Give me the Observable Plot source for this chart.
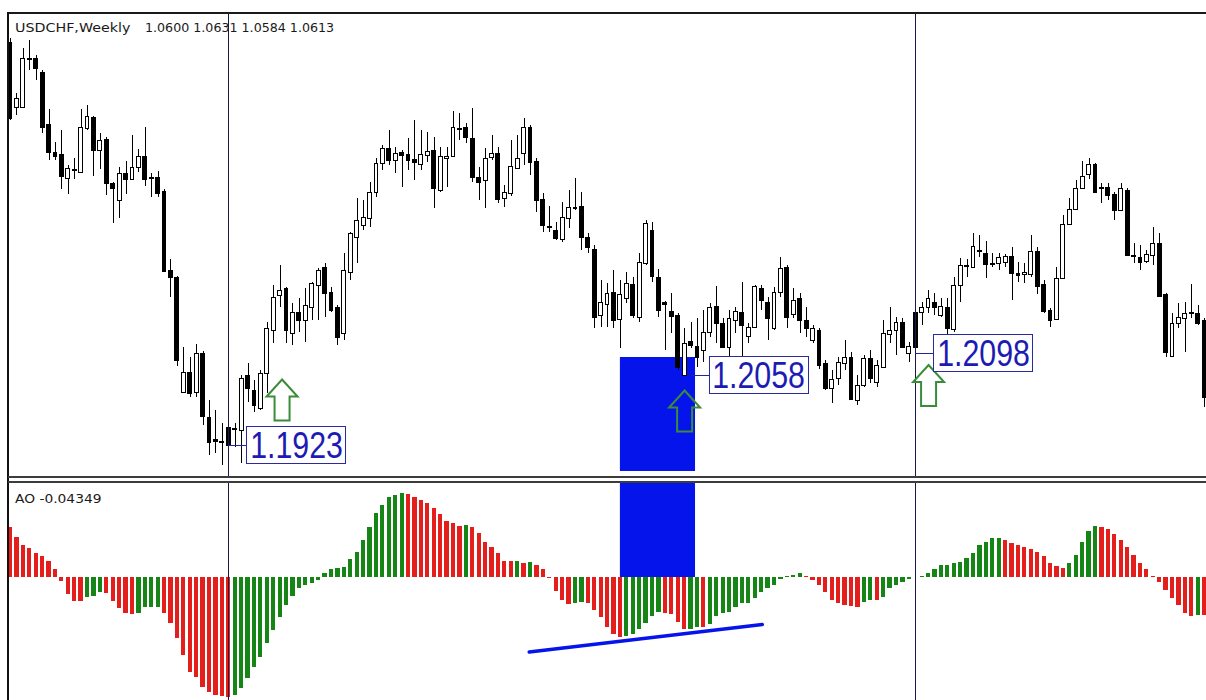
<!DOCTYPE html>
<html>
<head>
<meta charset="utf-8">
<script src="https://cdn.jsdelivr.net/npm/d3@7"></script>
<script src="https://cdn.jsdelivr.net/npm/@observablehq/plot@0.6"></script>
<style>
  html, body { margin: 0; padding: 0; background: #fff; }
  #wrap { position: relative; width: 1206px; height: 700px; overflow: hidden; background: #fff; }
  #main, #ao { position: absolute; left: 0; }
  #main { top: 0; }
  #ao { top: 478px; }
  .line { position: absolute; }
  .hdr { position: absolute; font-family: "DejaVu Sans", sans-serif; font-size: 11.5px; line-height: 12px;
         color: #1a1a1a; white-space: pre; transform-origin: left top; }
  .conn { position: absolute; height: 1px; background: #23239a; }
  .box { position: absolute; box-sizing: border-box; height: 38px; width: 100px; border: 1.5px solid #2a2a9e;
         background: #fff; display: flex; justify-content: center; overflow: visible; }
  .box span { display: inline-block; font-family: "Liberation Sans", Arial, sans-serif; font-size: 37px;
              line-height: 37px; color: #1c1cb4; transform: scaleX(0.82); transform-origin: center top; white-space: nowrap; }
</style>
</head>
<body>
<div id="wrap">
  <div id="main"></div>
  <div id="ao"></div>
</div>
<script>
// ---------------- DATA ----------------
const symbolTitle = "USDCHF,Weekly";
const quoteValues = ["1.0600", "1.0631", "1.0584", "1.0613"];
const aoTitle = "AO -0.04349";

const open = [1.2729,1.2599,1.2599,1.2697,1.2697,1.2669,1.2565,1.2509,1.2505,1.2457,
1.2473,1.2469,1.2557,1.2579,1.2513,1.2535,1.2447,1.2413,1.2467,1.2455,
1.2479,1.2501,1.2459,1.2459,1.2431,1.2273,1.2259,1.2029,1.2069,1.2029,
1.2107,1.1979,1.1935,1.1931,1.1959,1.1955,1.1953,1.2063,1.2033,1.1997,
1.2067,1.2153,1.2223,1.2237,1.2147,1.2189,1.2173,1.2199,1.2243,1.2279,
1.2229,1.2199,1.2147,1.2269,1.2339,1.2363,1.2377,1.2429,1.2487,1.2517,
1.2493,1.2509,1.2505,1.2495,1.2485,1.2503,1.2513,1.2433,1.2497,1.2501,
1.2555,1.2559,1.2537,1.2459,1.2453,1.2499,1.2507,1.2417,1.2427,1.2477,
1.2507,1.2559,1.2491,1.2415,1.2361,1.2353,1.2335,1.2377,1.2399,1.2401,
1.2339,1.2315,1.2183,1.2205,1.2229,1.2175,1.2217,1.2245,1.2179,1.2287,
1.2353,1.2259,1.2209,1.2191,1.2183,1.2063,1.2131,1.2121,1.2113,1.2149,
1.2201,1.2167,1.2119,1.2173,1.2189,1.2141,1.2159,1.2237,1.2209,1.2157,
1.2229,1.2279,1.2185,1.2217,1.2173,1.2133,1.2153,1.2087,1.2037,1.2057,
1.2087,1.2099,1.2013,1.2043,1.2097,1.2049,1.2079,1.2145,1.2153,1.2169,
1.2107,1.2189,1.2189,1.2199,1.2209,1.2183,1.2199,1.2155,1.2243,1.2281,
1.2279,1.2311,1.2307,1.2287,1.2287,1.2289,1.2301,1.2267,1.2265,1.2265,
1.2311,1.2245,1.2193,1.2175,1.2257,1.2365,1.2395,1.2437,1.2465,1.2485,
1.2439,1.2439,1.2425,1.2393,1.2433,1.2303,1.2299,1.2291,1.2303,1.2327,
1.2225,1.2101,1.2167,1.2177,1.2187,1.2187,1.2173];

const high = [1.2737,1.2627,1.2717,1.2733,1.2703,1.2673,1.2595,1.2529,1.2553,1.2483,
1.2497,1.2595,1.2603,1.2581,1.2547,1.2539,1.2449,1.2479,1.2491,1.2543,
1.2515,1.2559,1.2467,1.2471,1.2435,1.2295,1.2261,1.2119,1.2099,1.2125,
1.2111,1.2013,1.1993,1.1967,1.1961,1.1967,1.2063,1.2087,1.2053,1.2073,
1.2169,1.2243,1.2283,1.2239,1.2207,1.2217,1.2237,1.2249,1.2277,1.2287,
1.2239,1.2203,1.2307,1.2349,1.2417,1.2413,1.2449,1.2497,1.2523,1.2553,
1.2519,1.2513,1.2537,1.2573,1.2553,1.2549,1.2539,1.2519,1.2519,1.2591,
1.2587,1.2567,1.2597,1.2479,1.2517,1.2543,1.2519,1.2443,1.2533,1.2543,
1.2577,1.2563,1.2497,1.2427,1.2401,1.2369,1.2409,1.2433,1.2457,1.2429,
1.2347,1.2323,1.2253,1.2247,1.2273,1.2253,1.2269,1.2259,1.2307,1.2373,
1.2369,1.2275,1.2211,1.2227,1.2187,1.2157,1.2169,1.2177,1.2193,1.2207,
1.2241,1.2177,1.2193,1.2199,1.2249,1.2167,1.2243,1.2243,1.2219,1.2239,
1.2299,1.2283,1.2237,1.2227,1.2199,1.2163,1.2157,1.2093,1.2073,1.2099,
1.2133,1.2109,1.2063,1.2103,1.2113,1.2093,1.2173,1.2199,1.2179,1.2177,
1.2129,1.2193,1.2209,1.2233,1.2227,1.2217,1.2217,1.2259,1.2297,1.2295,
1.2347,1.2343,1.2331,1.2307,1.2307,1.2305,1.2319,1.2289,1.2287,1.2343,
1.2319,1.2253,1.2197,1.2279,1.2383,1.2417,1.2453,1.2491,1.2497,1.2487,
1.2447,1.2447,1.2429,1.2447,1.2437,1.2327,1.2323,1.2313,1.2359,1.2347,
1.2227,1.2187,1.2207,1.2209,1.2245,1.2203,1.2177];

const low = [1.2573,1.2583,1.2597,1.2673,1.2653,1.2547,1.2493,1.2493,1.2435,1.2425,
1.2455,1.2467,1.2553,1.2461,1.2475,1.2423,1.2367,1.2377,1.2425,1.2453,
1.2469,1.2441,1.2419,1.2419,1.2269,1.2219,1.2081,1.2027,1.2019,1.2019,
1.1963,1.1903,1.1907,1.1883,1.1873,1.1919,1.1887,1.2009,1.1989,1.1993,
1.2027,1.2127,1.2199,1.2127,1.2123,1.2149,1.2129,1.2173,1.2173,1.2179,
1.2189,1.2123,1.2133,1.2253,1.2287,1.2353,1.2359,1.2419,1.2473,1.2483,
1.2467,1.2439,1.2473,1.2453,1.2473,1.2489,1.2397,1.2429,1.2439,1.2499,
1.2533,1.2527,1.2449,1.2413,1.2397,1.2493,1.2407,1.2399,1.2421,1.2475,
1.2483,1.2463,1.2389,1.2349,1.2349,1.2333,1.2329,1.2357,1.2393,1.2313,
1.2307,1.2157,1.2159,1.2159,1.2157,1.2117,1.2207,1.2177,1.2169,1.2283,
1.2249,1.2179,1.2113,1.2147,1.2073,1.2061,1.2117,1.2079,1.2089,1.2139,
1.2127,1.2117,1.2093,1.2147,1.2089,1.2127,1.2157,1.2193,1.2133,1.2153,
1.2219,1.2157,1.2177,1.2147,1.2139,1.2127,1.2075,1.2033,1.2007,1.2043,
1.2073,1.2013,1.2003,1.2039,1.2047,1.2039,1.2077,1.2127,1.2103,1.2117,
1.2089,1.2117,1.2163,1.2187,1.2183,1.2179,1.2137,1.2149,1.2209,1.2259,
1.2277,1.2299,1.2257,1.2279,1.2273,1.2279,1.2213,1.2249,1.2247,1.2259,
1.2225,1.2187,1.2159,1.2173,1.2255,1.2363,1.2393,1.2435,1.2455,1.2427,
1.2407,1.2413,1.2373,1.2391,1.2301,1.2287,1.2273,1.2287,1.2283,1.2219,
1.2099,1.2099,1.2157,1.2109,1.2177,1.2163,1.1999];

const close = [1.2577,1.2617,1.2697,1.2695,1.2677,1.2559,1.2509,1.2501,1.2461,1.2477,
1.2475,1.2559,1.2581,1.2513,1.2533,1.2447,1.2437,1.2467,1.2455,1.2479,
1.2501,1.2455,1.2457,1.2427,1.2271,1.2259,1.2093,1.2069,1.2027,1.2107,
1.1981,1.1929,1.1931,1.1929,1.1923,1.1957,1.2057,1.2037,1.2003,1.2067,
1.2157,1.2219,1.2233,1.2153,1.2189,1.2173,1.2203,1.2247,1.2273,1.2227,
1.2193,1.2139,1.2273,1.2347,1.2373,1.2379,1.2429,1.2487,1.2517,1.2493,
1.2507,1.2503,1.2493,1.2489,1.2505,1.2511,1.2437,1.2501,1.2501,1.2559,
1.2557,1.2539,1.2459,1.2449,1.2497,1.2507,1.2415,1.2429,1.2481,1.2497,
1.2559,1.2489,1.2413,1.2363,1.2359,1.2337,1.2379,1.2399,1.2397,1.2339,
1.2319,1.2179,1.2209,1.2227,1.2173,1.2225,1.2247,1.2183,1.2289,1.2367,
1.2261,1.2193,1.2205,1.2181,1.2079,1.2127,1.2123,1.2099,1.2149,1.2199,
1.2167,1.2119,1.2177,1.2191,1.2163,1.2159,1.2241,1.2213,1.2177,1.2229,
1.2277,1.2179,1.2213,1.2173,1.2157,1.2157,1.2083,1.2037,1.2055,1.2089,
1.2099,1.2015,1.2043,1.2097,1.2057,1.2083,1.2147,1.2153,1.2169,1.2119,
1.2121,1.2119,1.2199,1.2217,1.2199,1.2201,1.2157,1.2243,1.2283,1.2283,
1.2321,1.2313,1.2285,1.2285,1.2299,1.2301,1.2267,1.2263,1.2269,1.2311,
1.2241,1.2191,1.2173,1.2257,1.2365,1.2395,1.2437,1.2461,1.2485,1.2429,
1.2437,1.2423,1.2393,1.2437,1.2303,1.2301,1.2289,1.2305,1.2327,1.2221,
1.2109,1.2167,1.2179,1.2187,1.2189,1.2167,1.2019];

// Awesome Oscillator histogram values (one per candle)
const ao = [0.00994,0.00806,0.0064,0.00574,0.00474,0.0042,0.00326,0.0016,-0.0008,-0.0034,
-0.00474,-0.0048,-0.00394,-0.0038,-0.00294,-0.00314,-0.00474,-0.00626,-0.00726,-0.00732,
-0.0072,-0.00606,-0.00594,-0.0059,-0.00726,-0.00926,-0.01226,-0.0156,-0.01894,-0.01994,
-0.02194,-0.02294,-0.0236,-0.0238,-0.024,-0.0236,-0.02226,-0.02026,-0.01794,-0.01594,
-0.01326,-0.0106,-0.00794,-0.0056,-0.0038,-0.00226,-0.0016,-0.00114,-0.0006,0.00086,
0.00154,0.00174,0.00206,0.00354,0.00506,0.0074,0.00994,0.01274,0.0144,0.01594,
0.0165,0.0168,0.0166,0.01606,0.0154,0.01486,0.01386,0.01254,0.01126,0.01074,
0.01026,0.01032,0.00994,0.00874,0.00706,0.00606,0.00486,0.00326,0.0032,0.00328,
0.0028,0.00292,0.0024,0.00154,-0.00026,-0.00274,-0.0046,-0.0054,-0.00514,-0.00506,
-0.00526,-0.0066,-0.00794,-0.01006,-0.0114,-0.01194,-0.01186,-0.0113,-0.01046,-0.00926,
-0.0078,-0.00694,-0.00726,-0.0074,-0.00894,-0.01046,-0.01036,-0.00994,-0.01006,-0.0094,
-0.0078,-0.00726,-0.00694,-0.00594,-0.00526,-0.00514,-0.00426,-0.00294,-0.00226,-0.0016,
-0.00046,0.0002,0.0005,0.00074,0.0002,-0.0006,-0.0016,-0.00294,-0.0046,-0.00526,
-0.0056,-0.0058,-0.00594,-0.00494,-0.0046,-0.00466,-0.00394,-0.00226,-0.0016,-0.00094,
-0.00046,0.00006,0.0002,0.00074,0.00154,0.0024,0.00246,0.00274,0.00306,0.00374,
0.00486,0.0064,0.00706,0.00774,0.0078,0.0074,0.00686,0.0064,0.00594,0.00554,
0.00506,0.0042,0.00286,0.0022,0.00186,0.00286,0.0044,0.00706,0.00926,0.0102,
0.00994,0.00954,0.0086,0.0074,0.00606,0.0044,0.00286,0.00154,0.0002,-0.00094,
-0.0026,-0.00426,-0.0056,-0.00714,-0.0078,-0.0076,-0.00766];

// vertical lines (bar index)
const verticalLines = [34, 141];
// highlighted zone (bar index range, price range, AO range)
const zoneBars = [95.0, 106.7];
const zonePrice = [1.1871, 1.2099];
const zoneAO = [0, 0.0192];
// up arrows (bar index, price)
const arrowBars = [42.3, 105, 143];
const arrowPrices = [1.2014, 1.1992, 1.2043];
// price labels (bar index, drawn level, text)
const labelBars = [34, 106, 141];
const labelLevels = [1.1923, 1.2063, 1.2107];
const labelTexts = ["1.1923", "1.2058", "1.2098"];
// AO trend line (bar index, AO value)
const trendBars = [80.8, 117.1];
const trendValues = [-0.0149, -0.0094];

// ---------------- BUILD ----------------
const candles = open.map((o, i) => ({i, open: o, high: high[i], low: low[i], close: close[i]}));
const aoData = ao.map((v, i) => ({i, v, up: i > 0 && v > ao[i - 1]}));
const zone = [{i1: zoneBars[0], i2: zoneBars[1], p1: zonePrice[0], p2: zonePrice[1], a1: zoneAO[0], a2: zoneAO[1]}];
const arrows = arrowBars.map((b, k) => ({i: b, price: arrowPrices[k]}));
const trend = trendBars.map((b, k) => ({i: b, v: trendValues[k]}));

const W = 1206;
const xDomain = [-0.31, 186.29];
const priceDomain = [1.1859, 1.2789];
const aoDomain = [-0.0246, 0.0192];
const BLUE = "#0614ec";
const NAVY = "#18184e";
const GREEN = "#158515";
const RED = "#e41e1a";

const upArrow = {
  draw(ctx, size) {
    const k = Math.sqrt(size / Math.PI) / 20;
    ctx.moveTo(0, -20.5 * k);
    ctx.lineTo(15.5 * k, -3.5 * k);
    ctx.lineTo(7.5 * k, -3.5 * k);
    ctx.lineTo(7.5 * k, 20.5 * k);
    ctx.lineTo(-7.5 * k, 20.5 * k);
    ctx.lineTo(-7.5 * k, -3.5 * k);
    ctx.lineTo(-15.5 * k, -3.5 * k);
    ctx.closePath();
  }
};

const mainPlot = Plot.plot({
  width: W, height: 478,
  marginTop: 12, marginBottom: 1, marginLeft: 8, marginRight: 0,
  style: {background: "transparent"},
  x: {domain: xDomain, axis: null},
  y: {domain: priceDomain, axis: null},
  marks: [
    Plot.rect(zone, {x1: "i1", x2: "i2", y1: "p1", y2: "p2", fill: BLUE}),
    Plot.ruleX(candles, {x: "i", y1: "low", y2: "high", stroke: "#000", strokeWidth: 1, shapeRendering: "crispEdges"}),
    Plot.rect(candles, {filter: d => d.close < d.open, x1: d => d.i - 0.3, x2: d => d.i + 0.3, y1: "open", y2: "close",
      fill: "#000", stroke: "#000", strokeWidth: 1, shapeRendering: "crispEdges"}),
    Plot.rect(candles, {filter: d => d.close >= d.open, x1: d => d.i - 0.3, x2: d => d.i + 0.3, y1: "open", y2: "close",
      fill: "#fff", stroke: "#000", strokeWidth: 1, shapeRendering: "crispEdges"}),
    Plot.ruleX(verticalLines, {x: d => d, stroke: NAVY, strokeWidth: 1, shapeRendering: "crispEdges"}),
    Plot.dot(arrows, {x: "i", y: "price", symbol: upArrow, r: 20, stroke: "#3a8c3a", strokeWidth: 2, fill: "none"})
  ]
});
document.getElementById("main").appendChild(mainPlot);

const aoPlot = Plot.plot({
  width: W, height: 222,
  marginTop: 3, marginBottom: 0, marginLeft: 8, marginRight: 0,
  style: {background: "transparent"},
  x: {domain: xDomain, axis: null},
  y: {domain: aoDomain, axis: null},
  marks: [
    Plot.rect(zone, {x1: "i1", x2: "i2", y1: "a1", y2: "a2", fill: BLUE}),
    Plot.rect(aoData, {filter: d => d.up, x1: d => d.i - 0.33, x2: d => d.i + 0.33, y1: d => 0, y2: "v", fill: GREEN, shapeRendering: "crispEdges"}),
    Plot.rect(aoData, {filter: d => !d.up, x1: d => d.i - 0.33, x2: d => d.i + 0.33, y1: d => 0, y2: "v", fill: RED, shapeRendering: "crispEdges"}),
    Plot.line(trend, {x: "i", y: "v", stroke: BLUE, strokeWidth: 3.5}),
    Plot.ruleX(verticalLines, {x: d => d, stroke: NAVY, strokeWidth: 1, shapeRendering: "crispEdges"})
  ]
});
document.getElementById("ao").appendChild(aoPlot);

// ---------------- OVERLAYS ----------------
const wrap = document.getElementById("wrap");
function addLine(x, y, w, h, color) {
  const d = document.createElement("div");
  d.className = "line";
  Object.assign(d.style, {left: x + "px", top: y + "px", width: w + "px", height: h + "px", background: color});
  wrap.appendChild(d);
}
// panel frames
addLine(8, 12, W - 8, 1.5, "#1a1a1a");
addLine(7, 12, 2, 688, "#111");
addLine(8, 476, W - 8, 2, "#3c3c3c");
addLine(8, 480.5, W - 8, 2, "#3c3c3c");

// header texts
function addText(txt, x, y, sx) {
  const d = document.createElement("div");
  d.className = "hdr";
  d.textContent = txt;
  d.style.left = x + "px";
  d.style.top = y + "px";
  d.style.transform = "scaleX(" + sx + ")";
  wrap.appendChild(d);
}
addText(symbolTitle, 15, 21.5, 1.24);
addText(quoteValues.join(" "), 145, 21.5, 1.1);
addText(aoTitle, 15, 493, 1.2);

// price labels
const xs = d3.scaleLinear(xDomain, [8, W]);
const ys = d3.scaleLinear(priceDomain, [477, 12]);
labelBars.forEach((b, k) => {
  const x0 = xs(b), y0 = ys(labelLevels[k]);
  const c = document.createElement("div");
  c.className = "conn";
  Object.assign(c.style, {left: x0 + "px", top: (y0 - 0.5) + "px", width: "18px"});
  wrap.appendChild(c);
  const box = document.createElement("div");
  box.className = "box";
  Object.assign(box.style, {left: (x0 + 18) + "px", top: (y0 - 19) + "px"});
  const s = document.createElement("span");
  s.textContent = labelTexts[k];
  box.appendChild(s);
  wrap.appendChild(box);
});
</script>
</body>
</html>
